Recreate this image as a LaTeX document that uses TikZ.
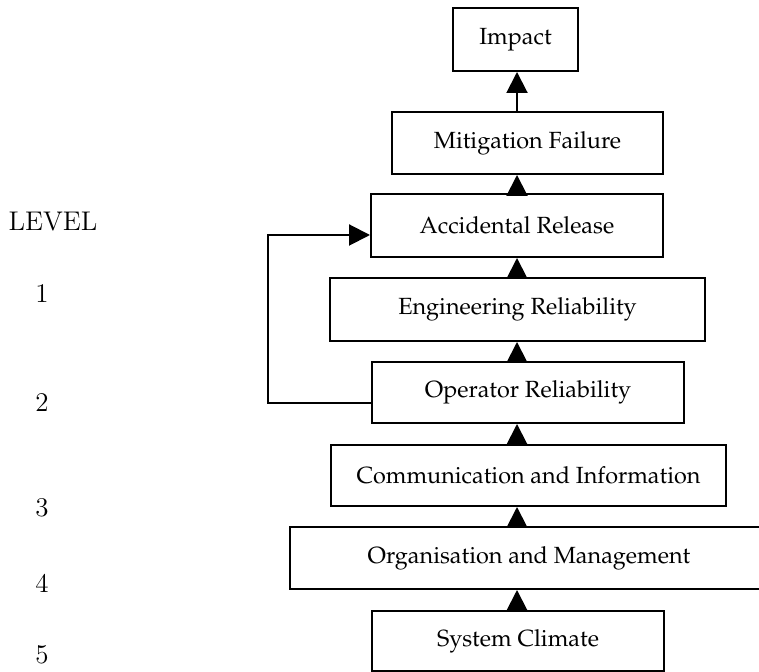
\documentclass[tikz,border=0pt]{standalone}
\usepackage[T1,TU]{fontenc}
\usepackage{tikz}
\usetikzlibrary{arrows.meta}
\usetikzlibrary{positioning}

\newcommand{\boxfont}{\fontencoding{T1}\fontfamily{ppl}\fontsize{11.7}{14}\selectfont}
\newcommand{\levfont}{\fontsize{13.5}{16}\selectfont}

\tikzset{
  stage/.style={draw, line width=1pt, inner sep=0pt, font=\boxfont},
  flow/.style={line width=1pt, -{Triangle[width=10.5pt,length=10.5pt]}},
  lev/.style={font=\levfont, inner sep=0pt}
}

\begin{document}
\begin{tikzpicture}[x=0.5pt,y=-0.5pt]
\useasboundingbox (0,0) rectangle (759,672);
\node[stage, minimum width=62.5pt, minimum height=31.5pt] (imp) at (515.5,39.5) {Impact};
\node[stage, minimum width=135.5pt, minimum height=31pt] (mit) at (527.5,143) {Mitigation Failure};
\node[stage, minimum width=146pt, minimum height=31.5pt] (acc) at (517,225.5) {Accidental Release};
\node[stage, minimum width=187.5pt, minimum height=31.5pt] (eng) at (517.5,309.5) {Engineering Reliability};
\node[stage, minimum width=156pt, minimum height=30.5pt] (opr) at (528,392.5) {Operator Reliability};
\node[stage, minimum width=197.5pt, minimum height=30.5pt] (com) at (528.5,475.5) {Communication and Information};
\node[stage, minimum width=250pt, minimum height=31pt] (org) at (540,558) {Organisation and Management\hspace*{11pt}};
\node[stage, minimum width=146pt, minimum height=30pt] (sys) at (518,641) {System Climate};
\coordinate (spine) at (517,0);
\coordinate (back) at (268,235);
\draw[flow] (mit.north -| spine) -- (imp.south -| spine);
\draw[flow] (acc.north -| spine) -- (mit.south -| spine);
\draw[flow] (eng.north -| spine) -- (acc.south -| spine);
\draw[flow] (opr.north -| spine) -- (eng.south -| spine);
\draw[flow] (com.north -| spine) -- (opr.south -| spine);
\draw[flow] (org.north -| spine) -- (com.south -| spine);
\draw[flow] (sys.north -| spine) -- (org.south -| spine);
\draw[flow] ([yshift=-5.25pt]opr.west) -| (back) -- (acc.west |- back);
\node[lev] (level) at (53,222) {LEVEL};
\node[lev] (l1) at (42,294) {1};
\node[lev] (l2) at (42,403) {2};
\node[lev] (l3) at (42,508) {3};
\node[lev] (l4) at (42,583) {4};
\node[lev] (l5) at (42,655) {5};
\end{tikzpicture}
\end{document}
